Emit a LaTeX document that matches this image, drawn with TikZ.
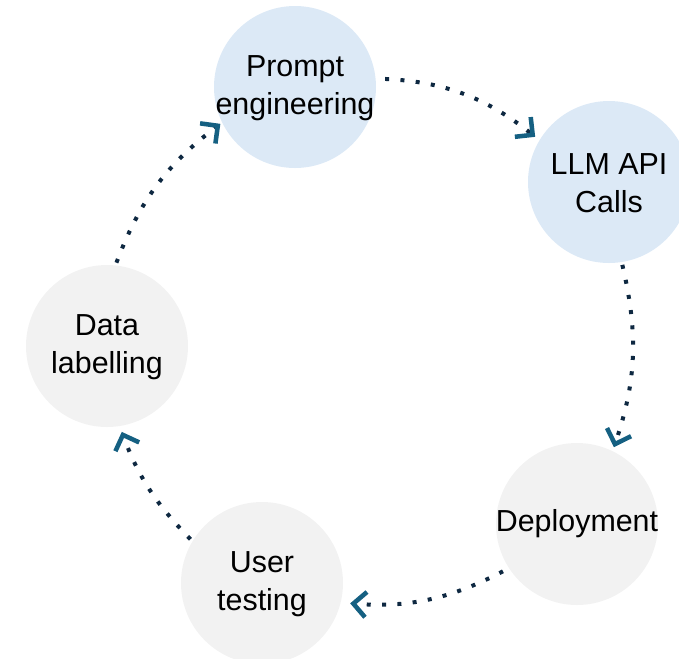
\documentclass[tikz,border=0pt]{standalone}
\usepackage{fontspec}
\setmainfont{Liberation Sans}
\usetikzlibrary{arrows.meta}
\definecolor{cblue}{HTML}{DCE9F6}
\definecolor{cgrey}{HTML}{F2F2F2}
\definecolor{cdot}{HTML}{0E2841}
\definecolor{ctip}{HTML}{156082}
\tikzset{
  stage/.style={circle, draw=none, minimum size=121.5pt, inner sep=0pt},
  blue stage/.style={stage, fill=cblue},
  grey stage/.style={stage, fill=cgrey},
  stagetext/.style={align=center, font=\fontsize{22.8}{29}\selectfont, inner sep=0pt},
  flow/.style={draw=cdot, line width=3pt, dash pattern=on 3pt off 8.5pt,
    -{Straight Barb[length=9.5pt, width=19pt, line width=3.4pt, color=ctip]}},
}
\begin{document}
\begin{tikzpicture}[x=0.75pt, y=0.75pt]
\useasboundingbox (0,0) rectangle (679,-658);
\clip (0,0) rectangle (679,-658);
\node[blue stage] (p) at (295,-87) {};
\node[blue stage] (l) at (609,-182) {};
\node[grey stage] (d) at (577,-524) {};
\node[grey stage] (u) at (262,-583) {};
\node[grey stage] (b) at (107,-346) {};
\node[stagetext] (pt) at ([yshift=-1pt]p) {Prompt\\engineering};
\node[stagetext] (lt) at ([yshift=-1pt]l) {LLM API\\Calls};
\node[stagetext] (dt) at (d) {Deployment};
\node[stagetext] (ut) at ([yshift=-1pt]u) {User\\testing};
\node[stagetext] (bt) at ([yshift=-1pt]b) {Data\\labelling};
\draw[flow, shorten <=7pt, shorten >=4pt] (p.6) to[bend left=18] (l.149);
\draw[flow, shorten <=2pt, shorten >=3pt] (l.-81) to[bend left=16] (d.64);
\draw[flow, shorten <=5pt, shorten >=7pt] (d.-147) to[bend left=16] (u.-14);
\draw[flow, shorten <=2pt, shorten >=4.5pt] (u.149) to[bend left=12] (b.-81);
\draw[flow, shorten <=2pt, shorten >=1.5pt] (b.84) to[bend left=16] (p.-154);
\end{tikzpicture}
\end{document}
